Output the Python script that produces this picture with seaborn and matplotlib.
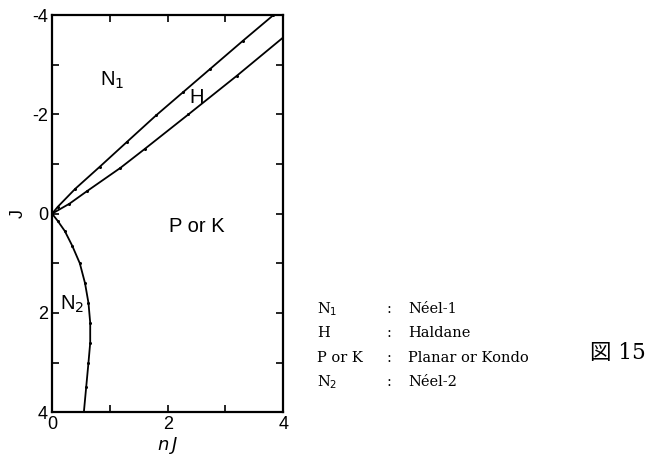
"""
Phase diagram (figure 15): J vs nJ with Neel-1, Haldane, Planar/Kondo and Neel-2 regions
"""
import numpy as np
import pandas as pd
import matplotlib
matplotlib.use('Agg')
import matplotlib.pyplot as plt
import seaborn as sns

# boundary N1 / H
upper_x = [0.0, 0.1, 0.4, 0.83, 1.3, 1.8, 2.27, 2.74, 3.3, 3.83]
upper_j = [0.0, -0.14, -0.5, -0.95, -1.45, -1.98, -2.45, -2.92, -3.48, -4.0]

# boundary H / P or K
lower_x = [0.0, 0.3, 0.6, 1.18, 1.6, 2.36, 3.2, 4.0]
lower_j = [0.0, -0.2, -0.45, -0.92, -1.3, -2.0, -2.78, -3.55]

# boundary N2 / P or K
n2_x = [0.0, 0.1, 0.22, 0.35, 0.48, 0.57, 0.63, 0.66, 0.66, 0.63, 0.59, 0.55]
n2_j = [0.0, 0.15, 0.35, 0.65, 1.0, 1.4, 1.8, 2.2, 2.6, 3.0, 3.5, 4.0]

region_labels = [r'N$_1$', 'H', 'P or K', r'N$_2$']
region_x = [1.04, 2.5, 2.5, 0.34]
region_j = [-2.68, -2.35, 0.25, 1.82]

legend_keys = [r'N$_1$', 'H', 'P or K', r'N$_2$']
legend_names = ['Néel-1', 'Haldane', 'Planar or Kondo', 'Néel-2']

x_ticks = [0, 1, 2, 3, 4]
x_ticklabels = ['0', '', '2', '', '4']
y_ticks = [-4, -3, -2, -1, 0, 1, 2, 3, 4]
y_ticklabels = ['-4', '', '-2', '', '0', '', '2', '', '4']

sns.set_style('ticks')
plt.rcParams['font.family'] = ['Liberation Sans', 'DejaVu Sans']
plt.rcParams['text.color'] = 'black'
plt.rcParams['axes.labelcolor'] = 'black'

fig = plt.figure(figsize=(6.51, 4.58), dpi=100)
ax = fig.add_axes([0.080, 0.100, 0.355, 0.867])

for xs, js in [(upper_x, upper_j), (lower_x, lower_j), (n2_x, n2_j)]:
    df = pd.DataFrame({'nJ': xs, 'J': js})
    sns.lineplot(data=df, x='nJ', y='J', sort=False, estimator=None,
                 color='black', linewidth=1.3, marker='o', markersize=2.2,
                 markeredgewidth=0, ax=ax)

ax.set_xlim(0, 4)
ax.set_ylim(4, -4)
ax.set_xticks(x_ticks)
ax.set_xticklabels(x_ticklabels)
ax.set_yticks(y_ticks)
ax.set_yticklabels(y_ticklabels)
ax.tick_params(direction='in', length=5, width=1.2, labelsize=13,
               top=True, right=True, pad=3, colors='black')
for sp in ax.spines.values():
    sp.set_linewidth(1.6)
    sp.set_color('black')

ax.set_xlabel(r'$n\,J$', fontsize=13, labelpad=1)
ax.set_ylabel('J', fontsize=13, labelpad=4)

for lab, x, j in zip(region_labels, region_x, region_j):
    ax.text(x, j, lab, fontsize=14.5, ha='center', va='center')

# legend text on the right
serif = ['DejaVu Serif']
ys = [0.325, 0.273, 0.218, 0.166]
for key, name, y in zip(legend_keys, legend_names, ys):
    fig.text(0.487, y, key, fontsize=10.5, family=serif, va='center')
    fig.text(0.593, y, ':', fontsize=10.5, family=serif, va='center')
    fig.text(0.627, y, name, fontsize=10.5, family=serif, va='center')

fig.text(0.906, 0.229, '図 15', fontsize=15.5, va='center',
         family=['DejaVu Serif', 'Noto Sans CJK JP'])

fig.savefig('out.png', dpi=100, facecolor='white')
plt.close(fig)
